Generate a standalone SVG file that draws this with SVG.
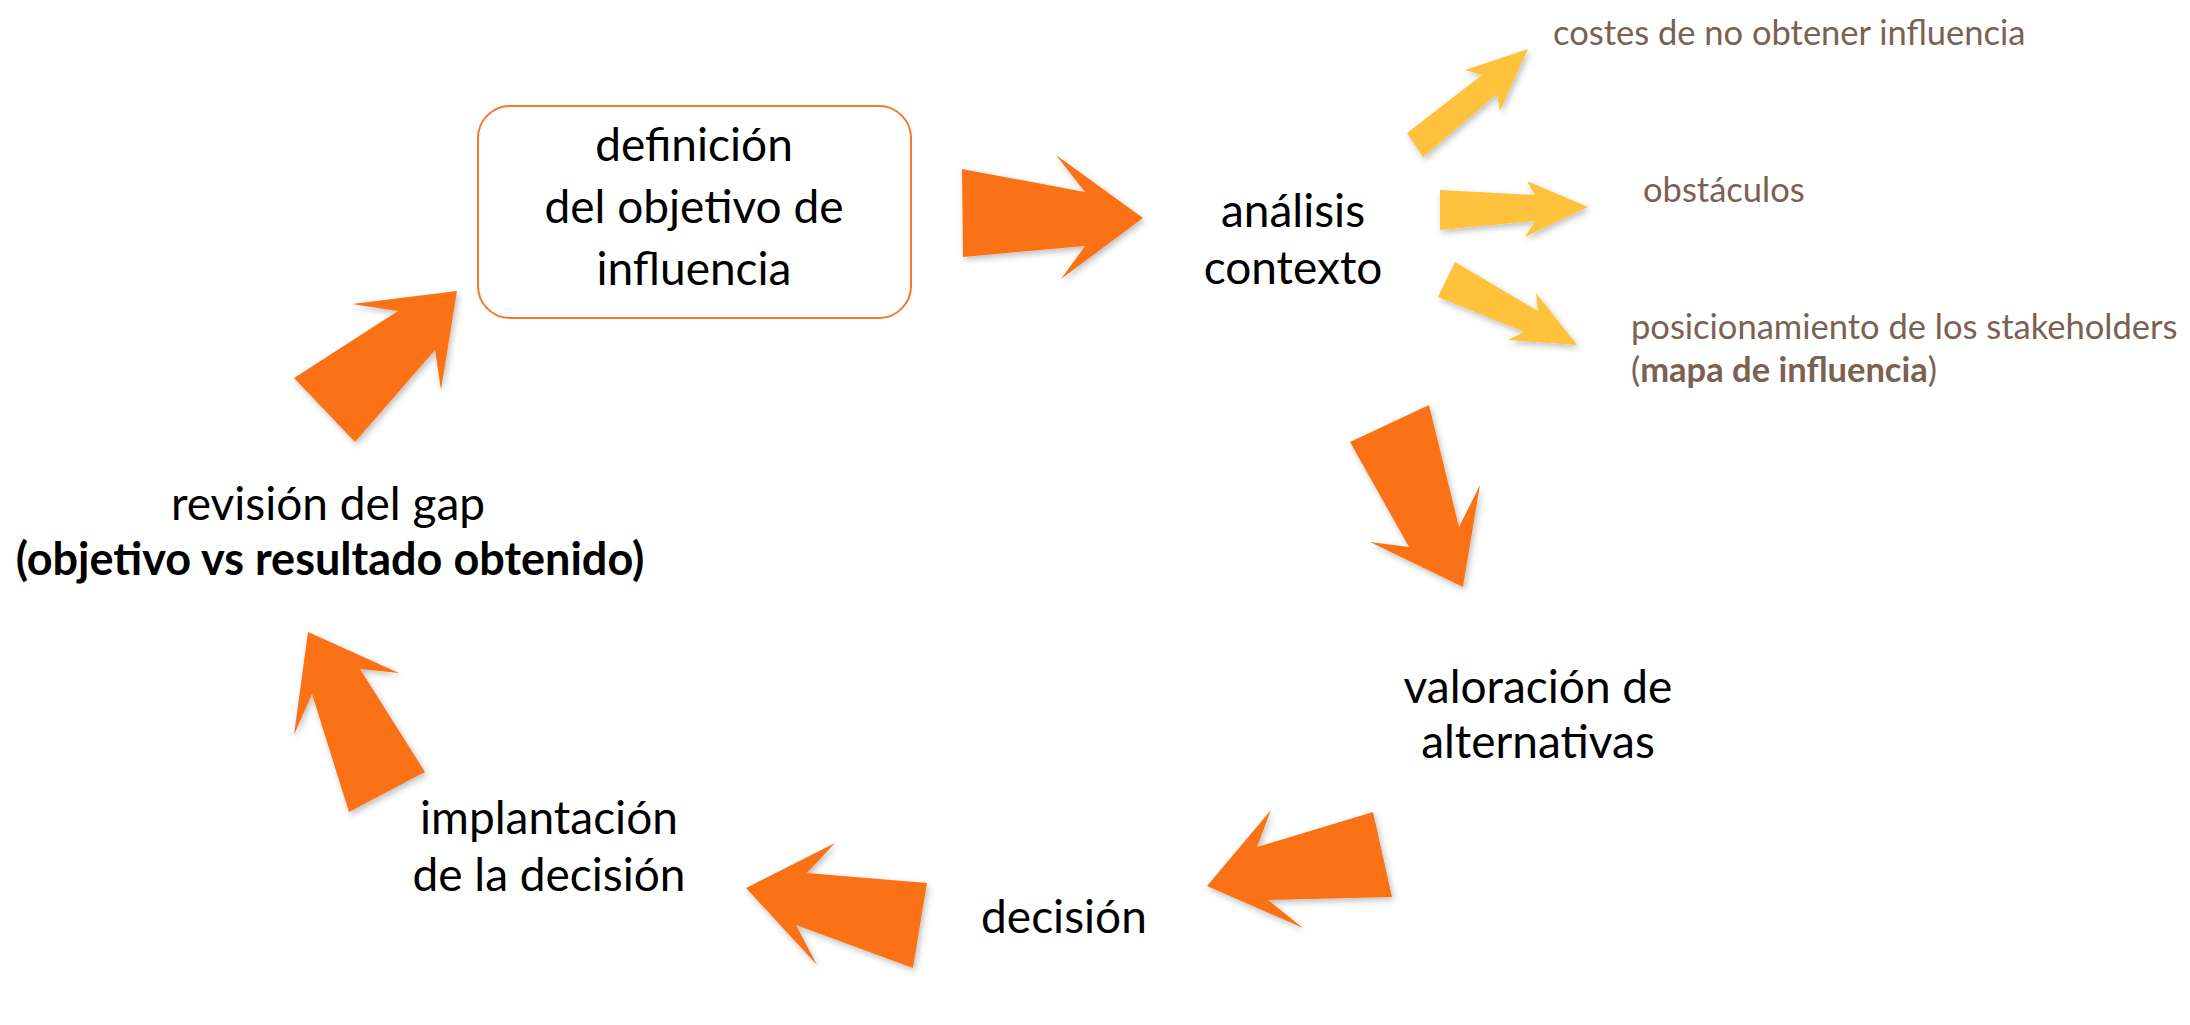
<svg xmlns="http://www.w3.org/2000/svg" width="2190" height="1025" viewBox="0 0 2190 1025">
<style>
.main{font-family:Lato,"Open Sans","Liberation Sans",sans-serif;font-size:46px;fill:#000;text-anchor:middle}
.side{font-family:Lato,"Open Sans","Liberation Sans",sans-serif;font-size:34.5px;fill:#7A6152}
.b{font-weight:bold}
.bm{font-size:45px}
.orange{fill:#FB7216;filter:url(#sh)}
.yellow{fill:#FFC23E;filter:url(#sh)}
</style>
<defs>
<filter id="sh" x="-20%" y="-20%" width="140%" height="140%">
<feDropShadow dx="2" dy="3" stdDeviation="3" flood-color="#000" flood-opacity="0.25"/>
</filter>
</defs>
<rect width="2190" height="1025" fill="#fff"/>
<g id="connectors">
<polygon class="orange" points="962,169 1085,192 1056,155 1143,218 1061,279 1085,246 963,257"/>
<polygon class="orange" points="1350,442 1429,405 1459,527 1480,485 1463,587 1370,542 1409,547"/>
<polygon class="orange" points="1373,812 1392,897 1268,900 1303,928 1207,886 1271,810 1257,847"/>
<polygon class="orange" points="927,883 913,968 796,925 817,965 746,888 835,843 807,873"/>
<polygon class="orange" points="349,812 425,772 360,669 399,673 308,632 294,735 312,694"/>
<polygon class="orange" points="294,378 355,442 435,350 441,390 457,291 352,304 398,311"/>
<polygon class="yellow" points="1407,133 1423,157 1497,94 1500,111 1528,49 1465,70 1482,75"/>
<polygon class="yellow" points="1440,190 1535,195 1527,181 1588,207 1525,237 1535,221 1440,230"/>
<polygon class="yellow" points="1455,262 1438,297 1524,332 1508,340 1577,345 1536,293 1538,311"/>
</g>
<g id="n-definicion">
<rect x="478" y="106" width="433" height="212" rx="32" ry="32" fill="#fff" stroke="#F47A2A" stroke-width="2"/>
<text class="main" x="694" y="161">definición</text>
<text class="main" x="694" y="223">del objetivo de</text>
<text class="main" x="694" y="285">influencia</text>
</g>
<g id="n-analisis">
<text class="main" x="1293" y="227">análisis</text>
<text class="main" x="1293" y="284">contexto</text>
</g>
<g id="n-costes"><text class="side" x="1553" y="45">costes de no obtener influencia</text></g>
<g id="n-obstaculos"><text class="side" x="1643" y="202">obstáculos</text></g>
<g id="n-posicionamiento">
<text class="side" x="1631" y="339">posicionamiento de los stakeholders</text>
<text class="side" x="1631" y="382">(<tspan class="b">mapa de influencia</tspan>)</text>
</g>
<g id="n-valoracion">
<text class="main" x="1538" y="703">valoración de</text>
<text class="main" x="1538" y="758">alternativas</text>
</g>
<g id="n-decision"><text class="main" x="1064" y="933">decisión</text></g>
<g id="n-implantacion">
<text class="main" x="549" y="834">implantación</text>
<text class="main" x="549" y="891">de la decisión</text>
</g>
<g id="n-revision">
<text class="main" x="328" y="520">revisión del gap</text>
<text class="main b bm" x="330" y="575">(objetivo vs resultado obtenido)</text>
</g>
</svg>
